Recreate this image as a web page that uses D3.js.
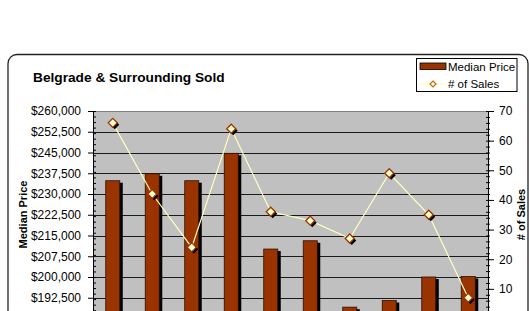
<!DOCTYPE html>
<html>
<head>
<meta charset="utf-8">
<script src="https://cdn.jsdelivr.net/npm/d3@7"></script>
<style>
  body { margin: 0; background: #fff; }
  svg { display: block; font-family: Arial, "Liberation Sans", sans-serif; }
</style>
</head>
<body>
<svg id="chart" width="529" height="311"></svg>
<script>
// values (x labels are below the visible area)
var categories = ["1", "2", "3", "4", "5", "6", "7", "8", "9", "10"];
var medianPrice = [234800, 237300, 234800, 244700, 210100, 213100, 189100, 191500, 200000, 200200];
var numSales = [66, 42, 24, 64, 36, 33, 27, 49, 35, 7];
var priceTicks = [185000, 192500, 200000, 207500, 215000, 222500, 230000, 237500, 245000, 252500, 260000];
var salesTicks = [0, 10, 20, 30, 40, 50, 60, 70];

var svg = d3.select("#chart");
var plot = {left: 93, right: 488, top: 111, bottom: 318.5};

// chart frame
svg.append("rect")
    .attr("x", 8).attr("y", 54.5)
    .attr("width", 520).attr("height", 300)
    .attr("rx", 9)
    .attr("fill", "#fff")
    .attr("stroke", "#222").attr("stroke-width", 1.3);

svg.append("text")
    .attr("x", 33).attr("y", 81.5)
    .style("font-size", "13.7px").style("font-weight", "bold")
    .text("Belgrade & Surrounding Sold");

var x = d3.scaleBand().domain(categories)
    .range([plot.left, plot.right])
    .paddingInner(0.645).paddingOuter(0.3225);
var yL = d3.scaleLinear().domain([185000, 260000]).range([plot.bottom, plot.top]);
var yR = d3.scaleLinear().domain([0, 70]).range([plot.bottom, plot.top]);

svg.append("rect")
    .attr("x", plot.left).attr("y", plot.top)
    .attr("width", plot.right - plot.left).attr("height", plot.bottom - plot.top)
    .attr("fill", "#c0c0c0");

// gridlines
svg.append("g").selectAll("line")
    .data(priceTicks)
    .enter().append("line")
    .attr("x1", plot.left).attr("x2", plot.right)
    .attr("y1", function(d) { return Math.round(yL(d)) + 0.5; })
    .attr("y2", function(d) { return Math.round(yL(d)) + 0.5; })
    .attr("stroke", function(d, i) { return i == priceTicks.length - 1 ? "#808080" : "#1a1a1a"; });

// bars with shadow
var bars = svg.append("g");
bars.selectAll(".shadow")
    .data(medianPrice)
    .enter().append("rect")
    .attr("class", "shadow")
    .attr("x", function(d, i) { return x(categories[i]) + 3; })
    .attr("y", function(d) { return yL(d) + 2; })
    .attr("width", x.bandwidth())
    .attr("height", function(d) { return plot.bottom - yL(d); })
    .attr("fill", "#000");
bars.selectAll(".bar")
    .data(medianPrice)
    .enter().append("rect")
    .attr("class", "bar")
    .attr("x", function(d, i) { return x(categories[i]); })
    .attr("y", function(d) { return yL(d); })
    .attr("width", x.bandwidth())
    .attr("height", function(d) { return plot.bottom - yL(d); })
    .attr("fill", "#993300")
    .attr("stroke", "#2a1000").attr("stroke-width", 0.8);

// sales line
var cx = function(d, i) { return x(categories[i]) + x.bandwidth() / 2; };
var line = d3.line()
    .x(cx)
    .y(function(d) { return yR(d); });
svg.append("path")
    .datum(numSales)
    .attr("d", line)
    .attr("fill", "none")
    .attr("stroke", "#ffffc0").attr("stroke-width", 1.2);

var diamond = "M0,-4.5L4.5,0L0,4.5L-4.5,0Z";
svg.append("g").selectAll("path")
    .data(numSales)
    .enter().append("path")
    .attr("d", diamond)
    .attr("transform", function(d, i) { return "translate(" + (cx(d, i) + 2) + "," + (yR(d) + 2) + ")"; })
    .attr("fill", "#000");
svg.append("g").selectAll("path")
    .data(numSales)
    .enter().append("path")
    .attr("d", diamond)
    .attr("transform", function(d, i) { return "translate(" + cx(d, i) + "," + yR(d) + ")"; })
    .attr("fill", "#ffffcc")
    .attr("stroke", "#993300").attr("stroke-width", 1.3);

// left axis (bottom labels fall below the visible picture, so they stay blank)
var fmt = function(d) { return d < 190000 ? "" : "$" + d3.format(",")(d); };
svg.append("g").attr("transform", "translate(" + plot.left + ",0)")
    .call(d3.axisLeft(yL).tickValues(priceTicks).tickFormat(fmt).tickSize(5).tickPadding(7));
svg.append("g").attr("transform", "translate(" + (plot.left + 3) + ",0)")
    .call(d3.axisLeft(yL).ticks(50).tickSize(3).tickFormat(""))
    .select(".domain").remove();

// right axis
svg.append("g").attr("transform", "translate(" + plot.right + ",0)")
    .call(d3.axisRight(yR).tickValues(salesTicks)
        .tickFormat(function(d) { return d == 0 ? "" : d; })
        .tickSize(6).tickPadding(5));
svg.append("g").attr("transform", "translate(" + (plot.right - 2) + ",0)")
    .call(d3.axisRight(yR).ticks(35).tickSize(4).tickFormat(""))
    .select(".domain").remove();

svg.selectAll(".domain").attr("stroke", "#000");
svg.selectAll(".tick line").attr("stroke", "#000");
svg.selectAll(".tick text")
    .style("font-size", "12px")
    .style("font-family", "Arial, 'Liberation Sans', sans-serif")
    .attr("fill", "#000");

// axis titles
svg.append("text")
    .attr("transform", "translate(27,214.5) rotate(-90)")
    .attr("text-anchor", "middle")
    .style("font-size", "11px").style("font-weight", "bold")
    .text("Median Price");
svg.append("text")
    .attr("transform", "translate(525,214.5) rotate(-90)")
    .attr("text-anchor", "middle")
    .style("font-size", "11px").style("font-weight", "bold")
    .text("# of Sales");

// legend
var lg = svg.append("g").attr("transform", "translate(416.5,58.5)");
lg.append("rect").attr("width", 100.5).attr("height", 33)
    .attr("fill", "#fff").attr("stroke", "#000");
lg.append("rect").attr("x", 3.5).attr("y", 4.5).attr("width", 26).attr("height", 6.5)
    .attr("fill", "#993300").attr("stroke", "#000").attr("stroke-width", 0.8);
lg.append("text").attr("x", 31.5).attr("y", 12)
    .style("font-size", "11.5px").text("Median Price");
lg.append("line").attr("x1", 3.5).attr("x2", 29.5).attr("y1", 25.5).attr("y2", 25.5)
    .attr("stroke", "#ffff99").attr("stroke-width", 1);
lg.append("path").attr("d", "M0,-3L3,0L0,3L-3,0Z")
    .attr("transform", "translate(16.5,25.5)")
    .attr("fill", "#fff").attr("stroke", "#cc6600").attr("stroke-width", 1.2);
lg.append("text").attr("x", 31.5).attr("y", 29.5)
    .style("font-size", "11.5px").text("# of Sales");
</script>
</body>
</html>
